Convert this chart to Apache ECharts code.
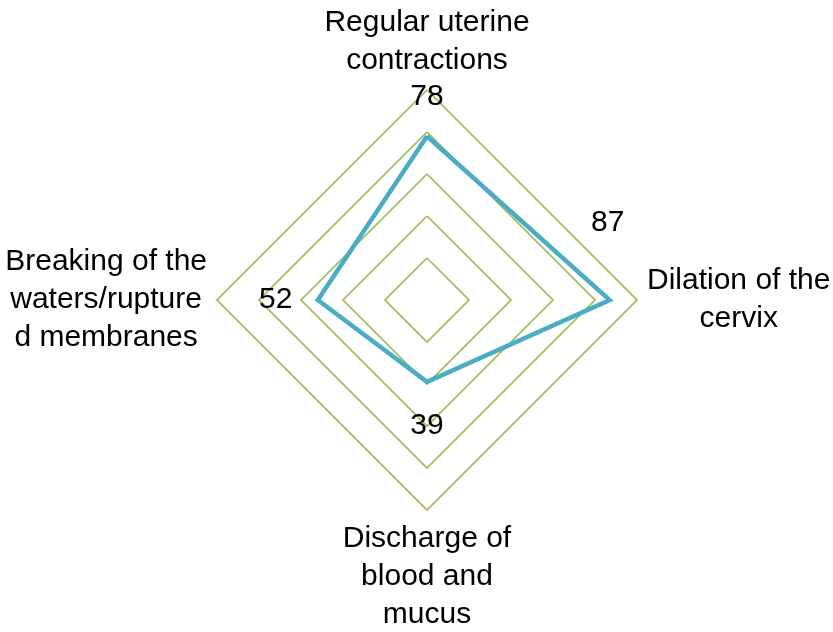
<!DOCTYPE html>
<html>
<head>
<meta charset="utf-8">
<script src="https://cdn.jsdelivr.net/npm/echarts@6/dist/echarts.min.js"></script>
<style>
  html, body { margin: 0; padding: 0; background: #fff; }
  #main { width: 833px; height: 632px; }
</style>
</head>
<body>
<div id="main"></div>
<script>
// indicators go counterclockwise from the top in echarts
let indicatorNames = [
    'Regular uterine\ncontractions',
    'Breaking of the\nwaters/rupture\nd membranes',
    'Discharge of\nblood and\nmucus',
    'Dilation of the\ncervix'
];
let values = [78, 52, 39, 87];
let maxValue = 100;

// padding per value label to push it off its vertex, same order as values
let labelPads = [
    [0, 0, 78, 0],
    [0, 84, 0, 0],
    [88, 0, 0, 0],
    [0, 4, 154, 0]
];

let fontFamily = '"Liberation Sans", Arial, sans-serif';

let chart = echarts.init(document.getElementById('main'), null, {renderer: 'canvas'});

let rich = {};
labelPads.forEach((pad, i) => {
    rich['v' + i] = {padding: pad, fontSize: 30, fontFamily: fontFamily, color: '#000'};
});

chart.setOption({
    animation: false,
    radar: {
        center: [427, 300],
        radius: 210,
        shape: 'polygon',
        startAngle: 90,
        splitNumber: 5,
        indicator: indicatorNames.map(name => ({name: name, max: maxValue, min: 0})),
        nameGap: 10,
        axisName: {
            color: '#000',
            fontSize: 30,
            fontFamily: fontFamily,
            lineHeight: 38,
            formatter: (name) => name.split('\n').map(line => '{c|' + line + '}').join('\n'),
            rich: {
                c: {align: 'center', fontSize: 30, fontFamily: fontFamily, color: '#000', lineHeight: 38}
            }
        },
        axisLine: {show: false},
        axisTick: {show: false},
        axisLabel: {show: false},
        splitArea: {show: false},
        splitLine: {
            lineStyle: {color: '#9BBB59', width: 1.7}
        }
    },
    series: [{
        type: 'radar',
        symbol: 'circle',
        symbolSize: 1,
        itemStyle: {color: '#4BACC6'},
        lineStyle: {color: '#4BACC6', width: 4.5, join: 'miter'},
        label: {
            show: true,
            position: 'inside',
            color: '#000',
            fontSize: 30,
            fontFamily: fontFamily,
            formatter: (params) => {
                let i = values.indexOf(params.value);
                return '{v' + i + '|' + params.value + '}';
            },
            rich: rich
        },
        data: [{value: values, name: 'Signs'}]
    }]
});
</script>
</body>
</html>
